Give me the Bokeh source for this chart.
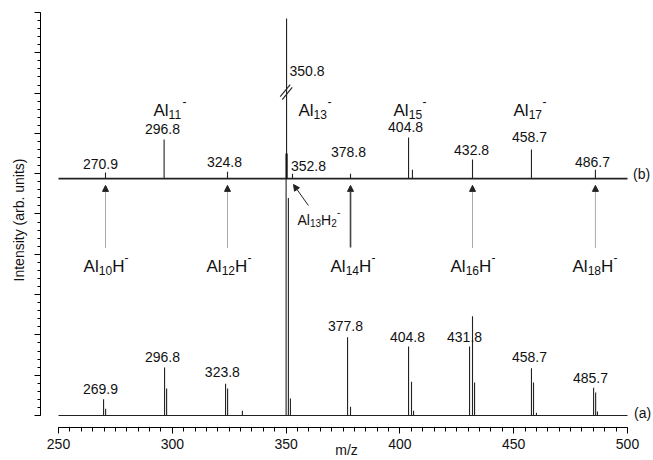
from bokeh.plotting import figure
from bokeh.models import FixedTicker, Arrow, NormalHead, ColumnDataSource
from bokeh.embed import file_html
from bokeh.resources import INLINE
from bokeh.core.properties import value

FONT = "Liberation Sans"
INK = "#111111"

# ---------------- data ----------------
# spectrum (a): peak positions (m/z) and heights (arb. units, baseline 0)
a_mz = [269.8, 270.7, 296.6, 297.5, 323.4, 324.3, 330.8, 350.0, 351.0, 351.9,
        377.0, 378.3, 403.8, 405.1, 406.0, 430.6, 431.9, 432.8, 457.8, 458.7,
        460.0, 485.1, 486.0, 486.8]
a_h = [4.0, 1.7, 11.9, 6.7, 7.9, 6.7, 1.2, 58.8, 54.0, 4.2,
       19.4, 2.2, 17.1, 8.4, 1.2, 17.1, 24.6, 8.2, 11.7, 8.2,
       0.7, 6.9, 5.7, 1.0]
a_base = 0.0

# spectrum (b): peak positions and heights above its own baseline
b_mz = [270.65, 296.4, 324.25, 350.2, 352.8, 378.3, 403.8, 405.5, 431.9, 457.8, 485.9]
b_h = [1.5, 9.7, 1.7, 39.7, 1.2, 1.2, 10.2, 2.2, 4.7, 7.2, 2.2]
b_base = 58.8
b_main_thick = 6.2          # thicker lower part of the 350.8 peak

# peak labels (b)
b_lab = ["270.9", "296.8", "324.8", "352.8", "378.8", "404.8", "432.8", "458.7", "486.7"]
b_lab_x = [268.45, 295.7, 322.9, 359.8, 377.4, 402.5, 431.5, 456.9, 484.6]
b_lab_y = [62.5, 71.2, 62.8, 62.0, 65.3, 71.7, 65.8, 69.0, 63.0]
top_peak_lab = "350.8"
top_peak_lab_x, top_peak_lab_y = 351.5, 85.6

# peak labels (a)
a_lab = ["269.9", "296.8", "323.8", "377.8", "404.8", "431.8", "458.7", "485.7"]
a_lab_x = [268.45, 295.7, 322.0, 376.1, 403.3, 428.4, 456.9, 483.7]
a_lab_y = [6.5, 14.4, 10.9, 22.3, 19.4, 19.4, 14.4, 9.4]

# cluster names
odd_n = ["11", "13", "15", "17"]
odd_x = [291.7, 355.4, 397.2, 449.9]
odd_y = 75.7
even_n = ["10", "12", "14", "16", "18"]
even_x = [261.0, 315.0, 369.5, 422.2, 475.8]
even_y = 37.0
arrow_mz = [270.65, 324.25, 378.3, 431.9, 485.9]
arrow_y0, arrow_y1 = 41.7, 57.1

x_ticks = [250, 300, 350, 400, 450, 500]
y_ticks = list(range(0, 101, 10))

# ---------------- figure ----------------
p = figure(width=653, height=460, x_range=(242.09, 510.98), y_range=(-2.98, 100),
           output_backend="svg", toolbar_location=None,
           min_border_left=40, min_border_right=1, min_border_top=12, min_border_bottom=33)
p.outline_line_color = None
p.grid.visible = False
p.background_fill_color = "white"

xa = p.xaxis[0]
xa.ticker = FixedTicker(ticks=x_ticks, minor_ticks=list(range(250, 501, 5)))
xa.bounds = (250, 500)
xa.major_tick_out = 6
xa.major_tick_in = 0
xa.minor_tick_out = 4
xa.minor_tick_in = 0
xa.axis_line_color = "black"
xa.major_tick_line_color = "black"
xa.minor_tick_line_color = "black"
xa.major_label_text_font = FONT
xa.major_label_text_font_size = "14px"
xa.major_label_text_color = INK
xa.major_label_standoff = 5
xa.axis_label = "m/z"
xa.axis_label_text_font = FONT
xa.axis_label_text_font_size = "14px"
xa.axis_label_text_font_style = "normal"
xa.axis_label_text_color = INK
xa.axis_label_standoff = -10

ya = p.yaxis[0]
ya.ticker = FixedTicker(ticks=y_ticks, minor_ticks=list(range(0, 101, 2)))
ya.bounds = (0, 100)
ya.major_tick_out = 6
ya.major_tick_in = 0
ya.minor_tick_out = 3
ya.minor_tick_in = 0
ya.axis_line_color = "black"
ya.major_label_overrides = {t: "" for t in y_ticks}
ya.major_label_text_font = FONT
ya.major_label_text_font_size = "14px"
ya.major_label_standoff = 0
ya.axis_label = "Intensity (arb. units)"
ya.axis_label_text_font = FONT
ya.axis_label_text_font_size = "14px"
ya.axis_label_text_font_style = "normal"
ya.axis_label_text_color = INK
ya.axis_label_standoff = 8

# baselines
p.line(x=[250, 500], y=[a_base, a_base], line_color="#222222", line_width=1.2)
p.line(x=[250, 500], y=[b_base, b_base], line_color="#222222", line_width=1.7)

# peaks
p.segment(x0=a_mz, y0=[a_base] * len(a_mz), x1=a_mz, y1=[a_base + h for h in a_h],
          line_color="#222222", line_width=1.1)
p.segment(x0=b_mz, y0=[b_base] * len(b_mz), x1=b_mz, y1=[b_base + h for h in b_h],
          line_color="#222222", line_width=1.1)
main_mz = b_mz[b_h.index(max(b_h))]
p.segment(x0=[main_mz], y0=[b_base], x1=[main_mz], y1=[b_base + b_main_thick],
          line_color="#111111", line_width=2.2)

# break mark "//" on the 350.8 peak
brk_y = 80.6
p.segment(x0=[main_mz - 2.8, main_mz - 1.9], y0=[brk_y - 1.5, brk_y - 2.2],
          x1=[main_mz + 1.6, main_mz + 2.5], y1=[brk_y + 1.5, brk_y + 0.8],
          line_color="#222222", line_width=1.1)


def txt(x, y, t, size, align="center", baseline="middle", xo=0, yo=0):
    p.text(x=x, y=y, text=t, text_font=value(FONT), text_font_size=value(size),
           text_align=align, text_baseline=baseline, text_color=INK,
           x_offset=xo, y_offset=yo)


txt(b_lab_x, b_lab_y, b_lab, "14px")
txt(a_lab_x, a_lab_y, a_lab, "14px")
txt([top_peak_lab_x], [top_peak_lab_y], [top_peak_lab], "14px", align="left")
txt([506.2], [60.0], ["(b)"], "14px")
txt([506.6], [0.5], ["(a)"], "14px")

# odd clusters: Al_n^-
oy = [odd_y] * len(odd_x)
txt(odd_x, oy, ["Al"] * len(odd_x), "17px", "left", "alphabetic")
txt(odd_x, oy, odd_n, "12px", "left", "alphabetic", xo=15.2, yo=4)
txt(odd_x, oy, ["-"] * len(odd_x), "12px", "left", "alphabetic", xo=29, yo=-9)

# even clusters: Al_nH^-
ey = [even_y] * len(even_x)
txt(even_x, ey, ["Al"] * len(even_x), "17px", "left", "alphabetic")
txt(even_x, ey, even_n, "12px", "left", "alphabetic", xo=15.2, yo=4)
txt(even_x, ey, ["H"] * len(even_x), "17px", "left", "alphabetic", xo=28.6)
txt(even_x, ey, ["-"] * len(even_x), "12px", "left", "alphabetic", xo=41, yo=-9)

# Al13H2- label
hx, hy = 355.0, 48.4
txt([hx], [hy], ["Al"], "14px", "left", "alphabetic")
txt([hx], [hy], ["13"], "10px", "left", "alphabetic", xo=12.5, yo=3)
txt([hx], [hy], ["H"], "14px", "left", "alphabetic", xo=23.6)
txt([hx], [hy], ["2"], "10px", "left", "alphabetic", xo=33.8, yo=3)
txt([hx], [hy], ["-"], "10px", "left", "alphabetic", xo=39.4, yo=-8)

# arrows from even-cluster labels to the (b) peaks
dotted_idx = [i for i in range(len(arrow_mz)) if i != 2]
src_d = ColumnDataSource(dict(x0=[arrow_mz[i] for i in dotted_idx],
                              y0=[arrow_y0] * len(dotted_idx),
                              x1=[arrow_mz[i] for i in dotted_idx],
                              y1=[arrow_y1] * len(dotted_idx)))
p.add_layout(Arrow(source=src_d, x_start="x0", y_start="y0", x_end="x1", y_end="y1",
                   line_color="#555555", line_width=1, line_dash="1 1",
                   end=NormalHead(size=6, fill_color="#222222", line_color="#222222", line_width=1)))
p.add_layout(Arrow(x_start=arrow_mz[2], y_start=arrow_y0, x_end=arrow_mz[2], y_end=arrow_y1,
                   line_color="#444444", line_width=1.6,
                   end=NormalHead(size=6, fill_color="#222222", line_color="#222222", line_width=1)))
# arrow from Al13H2- label to the 352.8 peak
p.add_layout(Arrow(x_start=359.8, y_start=52.1, x_end=353.25, y_end=57.3,
                   line_color="#222222", line_width=1,
                   end=NormalHead(size=6, fill_color="#222222", line_color="#222222", line_width=1)))

open("out.html", "w").write(file_html(p, INLINE))
